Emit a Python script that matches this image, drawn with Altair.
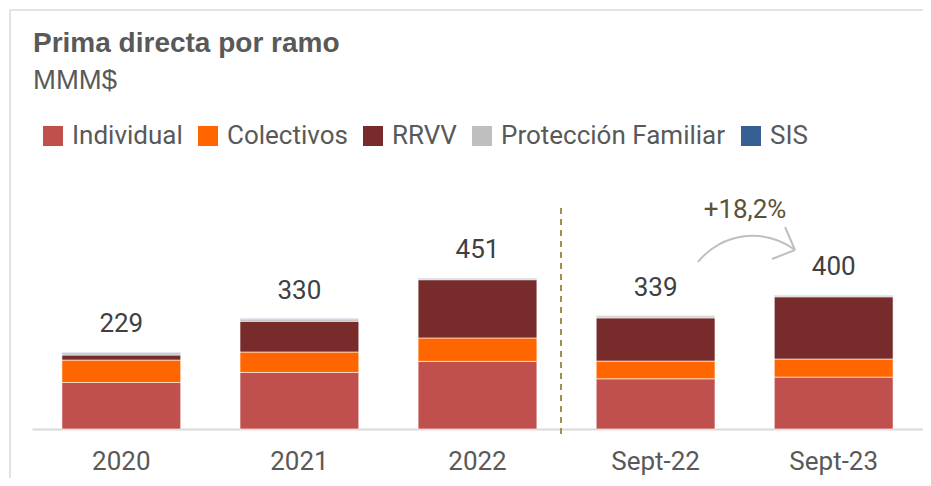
import altair as alt
import pandas as pd

# ---- data ----
periods = ["2020", "2021", "2022", "Sept-22", "Sept-23"]
series = ["Individual", "Colectivos", "RRVV", "Protección Familiar", "SIS"]
individual = [139, 169, 202, 150, 155]
colectivos = [67, 61, 70, 53, 54]
rrvv = [15, 92, 174, 129, 186]
proteccion = [7, 7, 4, 6, 4]
sis = [1, 1, 1, 1, 1]
totals = [229, 330, 451, 339, 400]
colors = ["#C0504D", "#FF6600", "#772B2B", "#BFBFBF", "#366092"]
title_text = "Prima directa por ramo"
subtitle_text = "MMM$"
growth_text = "+18,2%"

values = [individual, colectivos, rrvv, proteccion, sis]
rows = []
for si, (name, vals) in enumerate(zip(series, values)):
    for p, v in zip(periods, vals):
        rows.append({"Periodo": p, "Ramo": name, "Valor": v, "orden": si})
df = pd.DataFrame(rows)
tot_df = pd.DataFrame({"Periodo": periods, "Total": totals})
one = pd.DataFrame({"k": [0]})

W, H = 891, 241
x_enc = alt.X(
    "Periodo:N", sort=periods,
    scale=alt.Scale(paddingInner=0.333, paddingOuter=0.168),
    axis=alt.Axis(title=None, labelAngle=0, labelFont="Roboto", labelFontSize=26,
                  labelColor="#595959", ticks=False, tickSize=0, labelPadding=40,
                  labelBaseline="alphabetic", domainColor="#D9D9D9", domainWidth=2,
                  grid=False),
)
y_scale = alt.Scale(domain=[0, 720], nice=False)

bars = alt.Chart(df).mark_bar(stroke="white", strokeWidth=0.6).encode(
    x=x_enc,
    y=alt.Y("Valor:Q", stack="zero", scale=y_scale, axis=None),
    color=alt.Color(
        "Ramo:N", sort=series,
        scale=alt.Scale(domain=series, range=colors),
        legend=alt.Legend(
            title=None, orient="none", legendX=8, legendY=-65, direction="horizontal",
            columns=5, symbolType="square", symbolSize=400, symbolStrokeWidth=0,
            labelFont="Roboto", labelFontSize=26, labelColor="#595959", labelLimit=400,
            labelOffset=6, columnPadding=12, padding=0,
        ),
    ),
    order=alt.Order("orden:Q", sort="ascending"),
)

labels = alt.Chart(tot_df).mark_text(
    font="Roboto", fontSize=26, color="#404040", baseline="alphabetic", dy=-20
).encode(
    x=alt.X("Periodo:N", sort=periods),
    y=alt.Y("Total:Q", scale=y_scale),
    text=alt.Text("Total:Q"),
)

title = alt.Chart(one).mark_text(
    font="Liberation Sans", fontSize=28, fontWeight="bold", color="#595959",
    align="left", baseline="alphabetic"
).encode(x=alt.value(1), y=alt.value(-136), text=alt.value(title_text))

subtitle = alt.Chart(one).mark_text(
    font="Liberation Sans", fontSize=27.5, color="#595959",
    align="left", baseline="alphabetic"
).encode(x=alt.value(1), y=alt.value(-99), text=alt.value(subtitle_text))

frame_top = alt.Chart(one).mark_rule(color="#E3E3E3", strokeWidth=2).encode(
    x=alt.value(-22), x2=alt.value(905), y=alt.value(-178))
frame_left = alt.Chart(one).mark_rule(color="#E3E3E3", strokeWidth=2).encode(
    x=alt.value(-22), y=alt.value(-178), y2=alt.value(300))

divider = alt.Chart(one).mark_rule(color="#9E9150", strokeWidth=2, strokeDash=[6, 5]).encode(
    x=alt.value(529), y=alt.value(20), y2=alt.value(248))

arc = alt.Chart(one).mark_arc(
    color="#BFBFBF", innerRadius=69.3, outerRadius=71.3, theta=5.391, theta2=6.929
).encode(x=alt.value(720.7), y=alt.value(118.1))

head1 = alt.Chart(one).mark_rule(color="#BFBFBF", strokeWidth=2).encode(
    x=alt.value(753), y=alt.value(39), x2=alt.value(763), y2=alt.value(62))
head2 = alt.Chart(one).mark_rule(color="#BFBFBF", strokeWidth=2).encode(
    x=alt.value(740), y=alt.value(71), x2=alt.value(763), y2=alt.value(62))

growth = alt.Chart(one).mark_text(
    font="Roboto", fontSize=26, color="#5B5236", align="center", baseline="alphabetic"
).encode(x=alt.value(713), y=alt.value(30), text=alt.value(growth_text))

chart = alt.layer(
    frame_top, frame_left, bars, labels, title, subtitle, divider, arc, head1, head2, growth
).properties(
    width=W, height=H,
    padding={"left": 24, "top": 180, "right": 0, "bottom": 49},
    autosize=alt.AutoSizeParams(type="none"),
    background="white",
).configure_view(strokeWidth=0, stroke=None)

chart.save("out.html", embed_options={"renderer": "svg", "actions": False})
